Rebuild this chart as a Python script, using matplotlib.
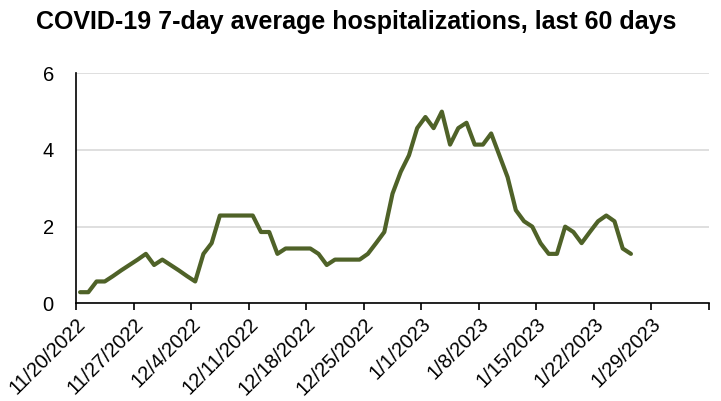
import numpy as np
import pandas as pd
import matplotlib
matplotlib.use("Agg")
import matplotlib.pyplot as plt
import matplotlib.transforms as mtransforms

plt.rcParams["font.family"] = ["Liberation Sans", "DejaVu Sans"]

# daily 7-day average hospitalizations, starting 11/20/2022
start_date = "2022-11-20"
hosp_avg = [
    0.29, 0.29, 0.57, 0.57, 0.71, 0.86, 1.00, 1.14, 1.29, 1.00,
    1.14, 1.00, 0.86, 0.71, 0.57, 1.29, 1.57, 2.29, 2.29, 2.29,
    2.29, 2.29, 1.86, 1.86, 1.29, 1.43, 1.43, 1.43, 1.43, 1.29,
    1.00, 1.14, 1.14, 1.14, 1.14, 1.29, 1.57, 1.86, 2.86, 3.43,
    3.86, 4.57, 4.86, 4.57, 5.00, 4.14, 4.57, 4.71, 4.14, 4.14,
    4.43, 3.86, 3.29, 2.43, 2.14, 2.00, 1.57, 1.29, 1.29, 2.00,
    1.86, 1.57, 1.86, 2.14, 2.29, 2.14, 1.43, 1.29,
]
tick_dates = ["2022-11-20", "2022-11-27", "2022-12-04", "2022-12-11",
              "2022-12-18", "2022-12-25", "2023-01-01", "2023-01-08",
              "2023-01-15", "2023-01-22", "2023-01-29", "2023-02-05"]
tick_labels = ["11/20/2022", "11/27/2022", "12/4/2022", "12/11/2022",
               "12/18/2022", "12/25/2022", "1/1/2023", "1/8/2023",
               "1/15/2023", "1/22/2023", "1/29/2023", ""]
y_ticks = [0, 2, 4, 6]

days = pd.date_range(start_date, periods=len(hosp_avg), freq="D")
# points sit mid-day, between the tick marks
x = days + pd.Timedelta(hours=12)

fig = plt.figure(figsize=(7.21, 4.01), dpi=100)
ax = fig.add_axes([0.1054, 0.2436, 0.878, 0.5736])

ax.plot(x, hosp_avg, color="#4F6228", linewidth=3.0,
        solid_capstyle="round", solid_joinstyle="round", zorder=3)

ticks = pd.to_datetime(tick_dates)
ax.set_xlim(ticks[0], ticks[-1])
ax.set_ylim(0, 6)
ax.set_xticks(ticks)
ax.set_xticklabels(tick_labels, rotation=45, ha="right", va="top",
                   rotation_mode="anchor", fontsize=14.5)
ax.set_yticks(y_ticks)
ax.set_yticklabels([str(v) for v in y_ticks], fontsize=14.5)

# nudge the slanted date labels to the right, like the original
shift = mtransforms.ScaledTranslation(7 / 100, 0, fig.dpi_scale_trans)
for lbl in ax.get_xticklabels():
    lbl.set_transform(lbl.get_transform() + shift)

ax.grid(axis="y", color="#D9D9D9", linewidth=1.2, zorder=0)
ax.tick_params(axis="x", direction="out", length=5, width=1.2, pad=3)
ax.tick_params(axis="y", length=0, pad=16)
ax.spines["top"].set_visible(False)
ax.spines["right"].set_visible(False)
ax.spines["left"].set_linewidth(1.2)
ax.spines["bottom"].set_linewidth(1.2)

fig.text(0.4947, 1 - 29.3 / 401,
         "COVID-19 7-day average hospitalizations, last 60 days",
         fontsize=18, fontweight="bold", ha="center", va="baseline")

fig.savefig("out.png", dpi=100)
